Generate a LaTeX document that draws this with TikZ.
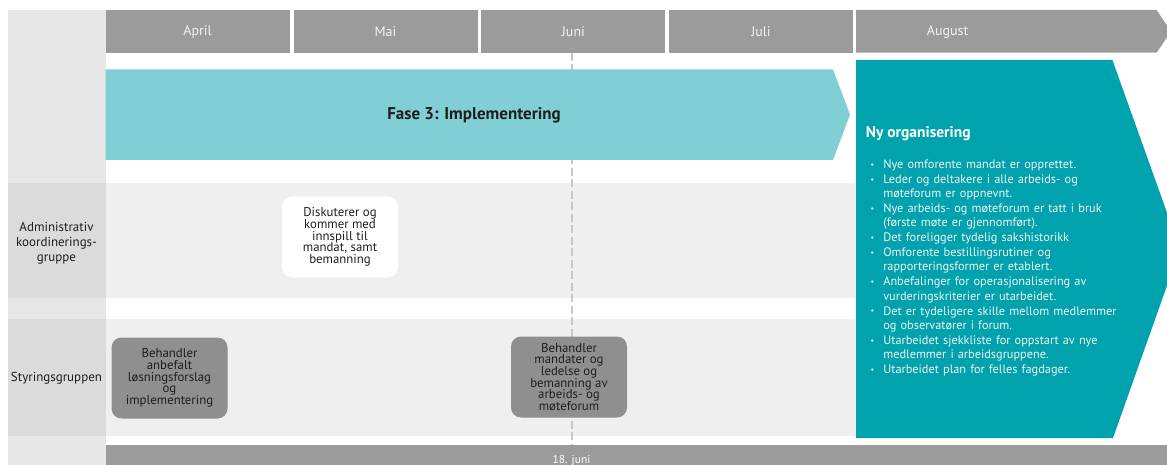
\documentclass[tikz,border=0pt]{standalone}
\usepackage{fontspec}
\setmainfont{PT Sans}
\usetikzlibrary{positioning}
\usepackage{xcolor}

\definecolor{monthgray}{HTML}{9B9B9B}
\definecolor{leftgray}{HTML}{E7E7E7}
\definecolor{labelgray}{HTML}{DBDBDB}
\definecolor{bandgray}{HTML}{EFEFEF}
\definecolor{fasecyan}{HTML}{80CFD4}
\definecolor{orgteal}{HTML}{00A3AD}
\definecolor{taskgray}{HTML}{8F8F8F}
\definecolor{textdark}{HTML}{1E1E1E}
\definecolor{junigray}{HTML}{C8C8C8}

\newcommand{\orgpoint}[1]{\hangindent=12.6pt\hangafter=1\noindent\makebox[12.6pt][l]{\raisebox{1.2pt}{\scalebox{.65}{\textbullet}}}#1\par}

\tikzset{
	monthlabel/.style={text=white!95!black, font=\fontsize{14}{16}\selectfont},
	rowlabel/.style={align=center, text=textdark, font=\fontsize{13}{15}\selectfont},
	taskbox/.style={rounded corners=10pt, minimum width=116pt, minimum height=81pt, inner sep=2pt, align=center, text=textdark, font=\fontsize{12.8}{11.7}\selectfont, execute at begin node={\lineskiplimit=-20pt\lineskip=0pt}},
	juniline/.style={junigray, line width=2pt, dash pattern=on 8pt off 3.5pt},
}

\begin{document}
\begin{tikzpicture}[x=1pt, y=-1pt]
			\useasboundingbox (0,0) rectangle (1167,465);
			\clip (0,0) rectangle (1167,465);
			
			% left column and rows
			\fill[leftgray] (7.7,10) rectangle (105.6,465);
			\fill[labelgray] (7.7,183) rectangle (105.6,298.3);
			\fill[labelgray] (7.7,319) rectangle (105.6,436);
			\fill[bandgray] (105.6,183) rectangle (856,298.3);
			\fill[bandgray] (105.6,319) rectangle (856,436);
			\node[rowlabel] (admin) at (56.5,243.5) {Administrativ\\koordinerings-\\gruppe};
			\node[rowlabel] (styring) at (56.5,378) {Styringsgruppen};
			
			% months
			\foreach \mname/\xa/\xb in {April/105.6/289.7, Mai/293.5/477.6, Juni/481.4/665.4, Juli/669/853}{
				\fill[monthgray] (\xa,10) rectangle (\xb,52.7);
				\node[monthlabel] (\mname) at ({(\xa+\xb)/2},32) {\mname};
			}
			\fill[monthgray] (856,10) -- (1156.6,10) -- (1171,31.5) -- (1156.6,52.7) -- (856,52.7) -- cycle;
			\node[monthlabel] (August) at (947.6,32) {August};
			
			% bottom bar
			\fill[monthgray] (105.6,445) rectangle (1167,470);
			\node[text=white, font=\fontsize{11.5}{12}\selectfont] (date) at (571.5,461) {18. juni};
			
			% 18. juni
			\coordinate (junitop) at (571.5,52.7);
			\coordinate (junibot) at (571.5,445);
			\draw[juniline] (junitop) -- (junibot);
			
			% fase 3
			\fill[fasecyan] (105.6,69.3) -- (833,69.3) -- (850,114.7) -- (833,160) -- (105.6,160) -- cycle;
			\node[text=textdark, font=\fontsize{17}{19}\selectfont\bfseries] (fase) at (474,115) {Fase 3: Implementering};
			
			% ny organisering
			\fill[orgteal] (856,60) -- (1112.4,60) -- (1180,249) -- (1113,438) -- (856,438) -- cycle;
			\node[anchor=base west, inner sep=0pt, text=white, font=\fontsize{15.5}{17}\selectfont\bfseries] (org) at (865.7,138) {Ny organisering};
			\node[anchor=north west, inner sep=0pt, text width=290pt, text=white!95!black, font=\fontsize{12.3}{14.3}\selectfont] (orglist) at (870.5,159.5) {%
				\setlength{\parskip}{0.6pt}%
				\orgpoint{Nye omforente mandat er opprettet.}
				\orgpoint{Leder og deltakere i alle arbeids- og\newline møteforum er oppnevnt.}
				\orgpoint{Nye arbeids- og møteforum er tatt i bruk\newline (første møte er gjennomført).}
				\orgpoint{Det foreligger tydelig sakshistorikk}
				\orgpoint{Omforente bestillingsrutiner og\newline rapporteringsformer er etablert.}
				\orgpoint{Anbefalinger for operasjonalisering av\newline vurderingskriterier er utarbeidet.}
				\orgpoint{Det er tydeligere skille mellom medlemmer\newline og observatører i forum.}
				\orgpoint{Utarbeidet sjekkliste for oppstart av nye\newline medlemmer i arbeidsgruppene.}
				\orgpoint{Utarbeidet plan for felles fagdager.}};
			
			% tasks
			\node[taskbox, fill=white] (diskuterer) at (340,237) {Diskuterer og\\kommer med\\innspill til\\mandat, samt\\bemanning};
			\node[taskbox, fill=taskgray] (anbefalt) at (169.5,378) {Behandler\\anbefalt\\løsningsforslag\\og\\implementering};
			\node[taskbox, fill=taskgray] (mandater) at (569,377) {Behandler\\mandater og\\ledelse og\\bemanning av\\arbeids- og\\møteforum};
			
		\end{tikzpicture}
\end{document}
